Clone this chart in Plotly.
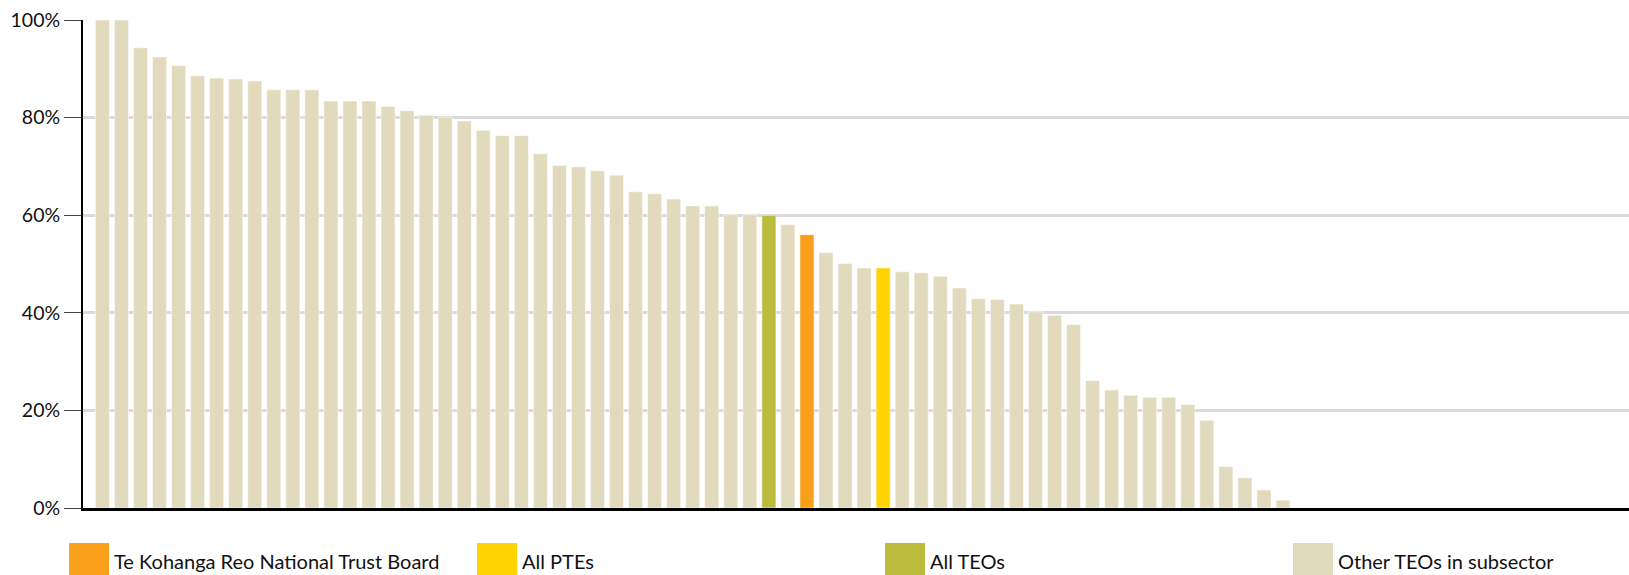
import plotly.graph_objects as go

# ---- data ----
values = [100, 100, 94.3, 92.4, 90.7, 88.6, 88.1, 87.9, 87.5, 85.7,
          85.7, 85.7, 83.4, 83.4, 83.4, 82.3, 81.4, 80.5, 80.1, 79.3,
          77.4, 76.3, 76.3, 72.6, 70.2, 69.9, 69.1, 68.2, 64.8, 64.4,
          63.3, 61.9, 61.9, 60.1, 60.1, 60.0, 58.1, 56.0, 52.3, 50.1,
          49.2, 49.2, 48.4, 48.2, 47.5, 45.1, 42.9, 42.7, 41.8, 40.2,
          39.5, 37.6, 26.1, 24.2, 23.1, 22.7, 22.7, 21.2, 18.0, 8.5,
          6.2, 3.7, 1.6]
# group of each bar: "other", "trust", "ptes", "teos"
groups = ["other"] * len(values)
groups[35] = "teos"
groups[37] = "trust"
groups[41] = "ptes"

series_names = ["Te Kohanga Reo National Trust Board", "All PTEs", "All TEOs",
                "Other TEOs in subsector"]
series_keys = ["trust", "ptes", "teos", "other"]
series_colors = ["#F99F1A", "#FFD300", "#BBBC3D", "#E2DABC"]

y_tickvals = [0, 20, 40, 60, 80, 100]
y_ticktext = ["0%", "20%", "40%", "60%", "80%", "100%"]

FONT = "Lato, 'Liberation Sans', sans-serif"

fig = go.Figure()
for key, name, color in zip(series_keys, series_names, series_colors):
    xs = [i for i, g in enumerate(groups) if g == key]
    ys = [values[i] for i in xs]
    fig.add_trace(go.Bar(
        x=xs, y=ys, name=name, width=0.74,
        marker=dict(color=color, line=dict(color="rgba(255,255,255,0.55)", width=1)),
        showlegend=False,
    ))

# custom legend: big squares + labels spaced evenly along the bottom
W, H = 1629, 575
ml, mr, mt, mb = 83, 0, 20, 67
pw, ph = W - ml - mr, H - mt - mb
def px(x):
    return (x - ml) / pw
def py(y):
    return (H - mb - y) / ph

for k, (name, color) in enumerate(zip(series_names, series_colors)):
    x0 = 69 + 408 * k
    fig.add_shape(type="rect", xref="paper", yref="paper",
                  x0=px(x0), x1=px(x0 + 40), y0=py(543), y1=py(590),
                  fillcolor=color, line=dict(width=0), layer="above")
    fig.add_annotation(xref="paper", yref="paper", x=px(x0 + 43), y=py(561),
                       xanchor="left", yanchor="middle", text=name, showarrow=False,
                       font=dict(family=FONT, size=20, color="#111111"))

fig.update_layout(
    width=W, height=H,
    margin=dict(l=ml, r=mr, t=mt, b=mb),
    paper_bgcolor="white", plot_bgcolor="white",
    barmode="overlay",
    font=dict(family=FONT, size=19, color="#111111"),
    xaxis=dict(range=[-1.02, 80.17], showticklabels=False, ticks="",
               showgrid=False, zeroline=False,
               showline=True, linecolor="#000000", linewidth=2.5),
    yaxis=dict(range=[0, 100], tickvals=y_tickvals, ticktext=y_ticktext,
               ticks="outside", ticklen=17, tickcolor="#444444", tickwidth=1,
               showgrid=True, gridcolor="#DADADA", gridwidth=2.5,
               zeroline=False, showline=True, linecolor="#000000", linewidth=2,
               ticklabelstandoff=0, tickfont=dict(size=19.5)),
)

fig.write_html("out.html",
               config={"displayModeBar": False},
               post_script="document.body.style.margin='0';"
                           "document.body.style.overflow='hidden';")
